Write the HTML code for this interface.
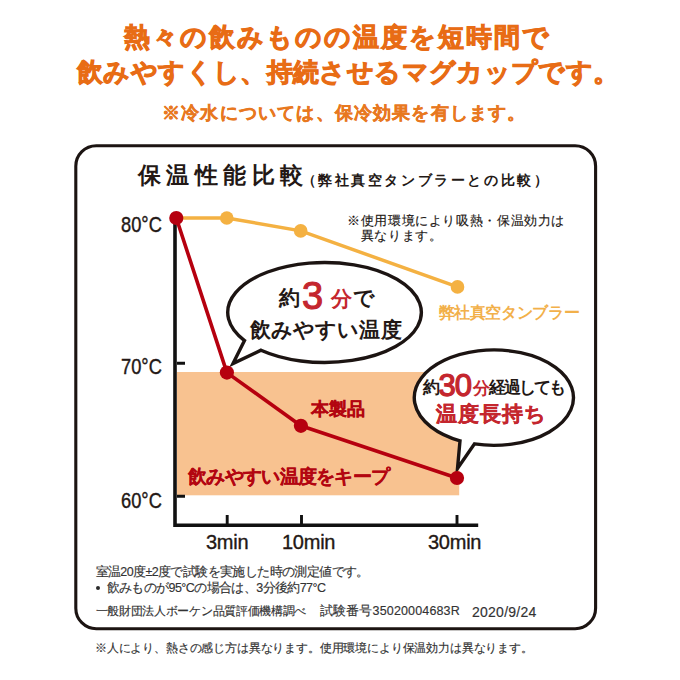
<!DOCTYPE html>
<html lang="ja">
<head>
<meta charset="utf-8">
<style>
html,body{margin:0;padding:0;background:#fff;}
body{width:680px;height:680px;position:relative;overflow:hidden;font-family:"Liberation Sans",sans-serif;}
.t{position:absolute;white-space:nowrap;line-height:1;}
svg{position:absolute;left:0;top:0;}
.ylab{font-size:21.5px;color:#231815;transform:scaleX(0.85);transform-origin:0 0;-webkit-text-stroke:0.4px #231815;}
.xlab{font-size:20px;color:#231815;letter-spacing:-0.25px;-webkit-text-stroke:0.35px #231815;}
.fn{font-size:12.5px;color:#333;-webkit-text-stroke:0.15px #333;}
</style>
</head>
<body>
<svg width="680" height="680" viewBox="0 0 680 680">
  <!-- frame -->
  <rect x="75.8" y="145.7" width="519.8" height="483" rx="20.5" ry="20.5" fill="none" stroke="#1c1412" stroke-width="3.1"/>
  <!-- band -->
  <rect x="177" y="372" width="282.2" height="123.3" fill="#F8C290"/>
  <!-- axes -->
  <path d="M175 218 V525.2 H478.2" fill="none" stroke="#111" stroke-width="3.6"/>
  <path d="M177 363.3 H185 M177 496.2 H185 M227.2 525 V515 M301.5 525 V515 M457 525 V515" fill="none" stroke="#111" stroke-width="2.9"/>
  <!-- orange series -->
  <polyline points="176.3,218 226.8,218 300.7,230.9 457.5,286.9" fill="none" stroke="#F4B142" stroke-width="3.5"/>
  <circle cx="226.8" cy="218" r="6.8" fill="#F4B142"/>
  <circle cx="300.7" cy="230.9" r="6.8" fill="#F4B142"/>
  <circle cx="457.5" cy="286.9" r="6.8" fill="#F4B142"/>
  <!-- bubble 1 -->
  <path d="M261.0 350.2 A96.8 50 0 1 0 244.5 340.6 L233 363.5 Z" fill="#fff" stroke="#1c1412" stroke-width="3.4" stroke-miterlimit="10"/>
  <!-- bubble 2 -->
  <path d="M474.5 443.9 A79.6 47.7 0 1 0 460.0 440.8 L457.5 468.5 Z" fill="#fff" stroke="#1c1412" stroke-width="3.4" stroke-miterlimit="10"/>
  <!-- red series -->
  <polyline points="176.3,218 226.9,372.6 300.9,425.8 457,478" fill="none" stroke="#B6000F" stroke-width="3.6" stroke-linejoin="round"/>
  <circle cx="176.3" cy="218" r="7.1" fill="#B6000F"/>
  <circle cx="226.9" cy="372.6" r="7.1" fill="#B6000F"/>
  <circle cx="300.9" cy="425.8" r="7.1" fill="#B6000F"/>
  <circle cx="457" cy="478" r="7.1" fill="#B6000F"/>
</svg>

<!-- headline -->
<div class="t" id="h1" style="left:124px;top:24px;font-size:26px;font-weight:bold;color:#E86C15;letter-spacing:1.97px;-webkit-text-stroke:0.9px #E86C15;">熱々の飲みものの温度を短時間で</div>
<div class="t" id="h2" style="left:77px;top:59px;font-size:26px;font-weight:bold;color:#E86C15;letter-spacing:0.38px;-webkit-text-stroke:0.9px #E86C15;">飲みやすくし、持続させるマグカップです。</div>
<div class="t" id="h3" style="left:162px;top:103.5px;font-size:18px;font-weight:bold;color:#E8781F;letter-spacing:1.19px;-webkit-text-stroke:0.4px #E8781F;">※冷水については、保冷効果を有します。</div>

<!-- chart title -->
<div class="t" id="ti" style="left:137.5px;top:164px;font-size:23px;font-weight:bold;color:#231815;letter-spacing:5.5px;">保温性能比較</div>
<div class="t" id="ti2" style="left:301.5px;top:172.5px;font-size:14px;font-weight:bold;color:#231815;letter-spacing:2.6px;">（弊社真空タンブラーとの比較）</div>

<div class="t" id="note" style="left:347px;top:212.5px;font-size:13px;color:#231815;line-height:15.4px;letter-spacing:0.63px;-webkit-text-stroke:0.15px #231815;">※使用環境により吸熱・保温効力は<br>&#12288;異なります。</div>

<!-- y labels -->
<div class="t ylab" style="left:120.5px;top:215px;">80°C</div>
<div class="t ylab" style="left:120.5px;top:357px;">70°C</div>
<div class="t ylab" style="left:120.5px;top:491px;">60°C</div>

<!-- x labels -->
<div class="t xlab" style="left:206px;top:532px;">3min</div>
<div class="t xlab" style="left:282px;top:532px;">10min</div>
<div class="t xlab" style="left:428px;top:532px;">30min</div>

<!-- series labels -->
<div class="t" style="left:438.5px;top:305px;font-size:16px;font-weight:bold;color:#F2B04A;letter-spacing:-0.37px;">弊社真空タンブラー</div>
<div class="t" style="left:310.5px;top:400px;font-size:18px;font-weight:bold;color:#B30510;-webkit-text-stroke:0.3px #B30510;">本製品</div>
<div class="t" style="left:188px;top:467px;font-size:19px;font-weight:bold;color:#B30510;letter-spacing:-0.7px;-webkit-text-stroke:0.2px #B30510;">飲みやすい温度をキープ</div>

<!-- bubble 1 text -->
<div class="t" style="left:279px;top:287px;font-size:21px;font-weight:bold;color:#231815;">約</div>
<div class="t" style="left:302px;top:276.5px;font-size:38px;font-weight:normal;color:#C4262E;-webkit-text-stroke:1.1px #C4262E;">3</div>
<div class="t" style="left:331px;top:288px;font-size:21px;font-weight:bold;color:#C4262E;">分</div>
<div class="t" style="left:352.5px;top:287px;font-size:21px;font-weight:bold;color:#231815;">で</div>
<div class="t" style="left:250px;top:319px;font-size:21px;font-weight:bold;color:#231815;letter-spacing:0.1px;">飲みやすい温度</div>

<!-- bubble 2 text -->
<div class="t" style="left:423px;top:379px;font-size:16.5px;font-weight:bold;color:#231815;">約</div>
<div class="t" style="left:438.5px;top:369.5px;font-size:31px;font-weight:normal;color:#C4262E;letter-spacing:-1px;-webkit-text-stroke:1.25px #C4262E;">30</div>
<div class="t" style="left:473px;top:379.5px;font-size:16.5px;font-weight:bold;color:#C4262E;">分</div>
<div class="t" style="left:489px;top:379px;font-size:16.5px;font-weight:bold;color:#231815;letter-spacing:-2px;">経過しても</div>
<div class="t" style="left:435.5px;top:404px;font-size:20.5px;font-weight:bold;color:#C4262E;letter-spacing:1px;-webkit-text-stroke:0.35px #C4262E;">温度長持ち</div>

<!-- footnotes -->
<div class="t fn" style="left:95.5px;top:565.5px;letter-spacing:-0.6px;">室温20度±2度で試験を実施した時の測定値です。</div>
<div class="t" style="left:95.5px;top:586.2px;width:4.2px;height:4.2px;border-radius:50%;background:#2a2a2a;"></div>
<div class="t fn" style="left:106.5px;top:581.5px;letter-spacing:-0.59px;">飲みものが95°Cの場合は、3分後約77°C</div>
<div class="t fn" style="left:95.5px;top:605px;font-size:12px;letter-spacing:-0.3px;">一般財団法人ボーケン品質評価機構調べ</div>
<div class="t fn" style="left:320px;top:605px;letter-spacing:0.15px;">試験番号35020004683R</div>
<div class="t fn" style="left:472px;top:605px;font-size:14px;letter-spacing:0.25px;">2020/9/24</div>
<div class="t fn" style="left:95px;top:642px;font-size:12px;letter-spacing:-0.17px;">※人により、熱さの感じ方は異なります。使用環境により保温効力は異なります。</div>
</body>
</html>
